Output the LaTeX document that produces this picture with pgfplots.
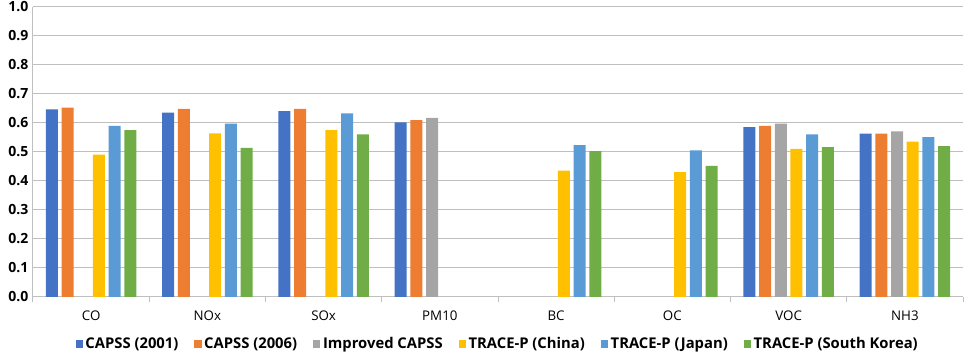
\documentclass[border=0pt]{standalone}
\usepackage{pgfplots}
\pgfplotsset{compat=1.18}
\usepackage{fontspec}
\setmainfont{Open Sans}
\definecolor{c1}{HTML}{4472C4}
\definecolor{c2}{HTML}{ED7D31}
\definecolor{c3}{HTML}{A5A5A5}
\definecolor{c4}{HTML}{FFC000}
\definecolor{c5}{HTML}{5B9BD5}
\definecolor{c6}{HTML}{70AD47}
\definecolor{gridc}{HTML}{BFBFBF}
\begin{document}
\begin{tikzpicture}
\begin{axis}[
  scale only axis, width=697.5pt, height=217.5pt,
  ybar=2.8pt, bar width=9pt,
  xmin=-0.5, xmax=7.5, ymin=0, ymax=1,
  ytick={0,0.1,0.2,0.3,0.4,0.5,0.6,0.7,0.8,0.9,1.0},
  yticklabel style={font=\bfseries\fontsize{10.5}{12}\selectfont,
    /pgf/number format/fixed, /pgf/number format/fixed zerofill,
    /pgf/number format/precision=1, /pgf/number format/assume math mode=true},
  ymajorgrids, grid style={draw=gridc, line width=0.75pt},
  axis x line*=bottom, axis y line*=left,
  axis line style={draw=gridc, line width=0.75pt},
  ytick style={draw=none},
  xtick={-0.5,0.5,1.5,2.5,3.5,4.5,5.5,6.5,7.5},
  x tick label as interval,
  xticklabels={CO,NOx,SOx,PM10,BC,OC,VOC,NH3},
  xticklabel style={font=\fontsize{10}{12}\selectfont, yshift=-3pt},
  xtick align=outside, major tick length=4pt,
  xtick style={draw=gridc, line width=0.75pt},
  legend style={at={(0.5,-0.162)}, anchor=center, draw=none, fill=none,
    font=\bfseries\fontsize{11.1}{12}\selectfont, inner sep=0pt,
    /tikz/every even column/.append style={column sep=10pt}},
  legend columns=6,
  legend cell align=left,
  legend image code/.code={\fill[#1] (0pt,-2.7pt) rectangle (5.4pt,2.7pt);},
  clip=false,
]
\addplot[fill=c1, draw=none] coordinates {(0,0.647) (1,0.636) (2,0.641) (3,0.602) (6,0.586) (7,0.563)};
\addplot[fill=c2, draw=none] coordinates {(0,0.653) (1,0.649) (2,0.649) (3,0.610) (6,0.590) (7,0.563)};
\addplot[fill=c3, draw=none] coordinates {(3,0.618) (6,0.598) (7,0.571)};
\addplot[fill=c4, draw=none] coordinates {(0,0.491) (1,0.564) (2,0.575) (4,0.436) (5,0.431) (6,0.511) (7,0.536)};
\addplot[fill=c5, draw=none] coordinates {(0,0.590) (1,0.598) (2,0.633) (4,0.524) (5,0.506) (6,0.561) (7,0.551)};
\addplot[fill=c6, draw=none] coordinates {(0,0.575) (1,0.514) (2,0.561) (4,0.503) (5,0.452) (6,0.517) (7,0.520)};
\legend{CAPSS (2001), CAPSS (2006), Improved CAPSS, TRACE-P (China), TRACE-P (Japan), TRACE-P (South Korea)}
\coordinate (bl) at (rel axis cs:0,0);
\coordinate (tr) at (rel axis cs:1,1);
\end{axis}
\pgfresetboundingbox
\path ([shift={(-24.75pt,-44.25pt)}]bl) rectangle ([shift={(0.75pt,5.25pt)}]tr);
\end{tikzpicture}
\end{document}
